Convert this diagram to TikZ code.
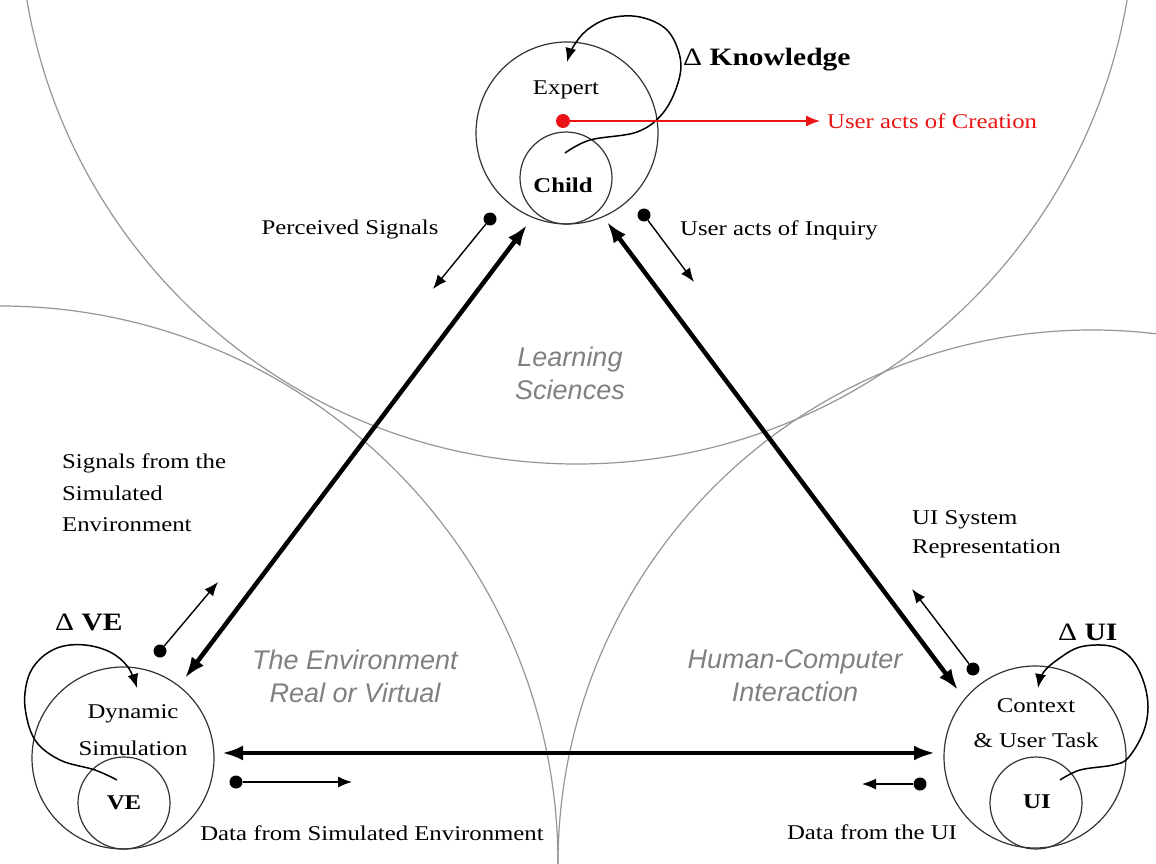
\documentclass[tikz,border=0pt]{standalone}
\usepackage{fontspec}
\setmainfont{Liberation Serif}[FakeStretch=1.18]
\newfontfamily\sansit{Liberation Sans}
\usetikzlibrary{arrows.meta}
\definecolor{arcgray}{RGB}{150,150,150}
\definecolor{lblgray}{RGB}{128,128,128}
\definecolor{ured}{RGB}{235,20,20}
\begin{document}
\begin{tikzpicture}[x=1pt,y=-1pt,
  txt/.style={font=\fontsize{21}{31}\selectfont, inner sep=0pt, align=center},
  btxt/.style={font=\fontsize{21}{31}\selectfont\bfseries, inner sep=0pt},
  delta/.style={font=\fontsize{25}{30}\selectfont\bfseries, inner sep=0pt, anchor=west},
  area/.style={font=\fontsize{27}{33}\selectfont\sansit\itshape, text=lblgray, align=center, inner sep=0pt},
  ringnode/.style={circle, draw=black!80, line width=1.2pt, inner sep=0pt},
  zone/.style={draw=arcgray, line width=1.2pt},
  big/.style={line width=4.5pt, {Latex[length=21pt,width=15pt]}-{Latex[length=21pt,width=15pt]}},
  sig/.style={line width=1.4pt, -{Latex[length=14pt,width=11pt]}},
  dot/.style={circle, fill=black, inner sep=0pt, minimum size=13pt},
  selfloop/.style={line width=1.5pt, -{Latex[length=14pt,width=11pt]}}
]
\useasboundingbox (0,0) rectangle (1156,864);
\fill[white] (0,0) rectangle (1156,864);

% discipline zones
\begin{scope}
\clip (0,0) rectangle (1156,864);
\draw[zone] (577,-94) circle[radius=558];
\draw[zone] (0,864) circle[radius=558];
\draw[zone] (1092,864) circle[radius=534];
\end{scope}

% agent circles
\node[ringnode, minimum size=182pt] (expertc) at (567,133) {};
\node[ringnode, minimum size=92pt] (childc) at (566,178) {};
\node[ringnode, minimum size=182pt] (dsc) at (123,758) {};
\node[ringnode, minimum size=92pt] (vec) at (124,803) {};
\node[ringnode, minimum size=182pt] (ctxc) at (1035,757) {};
\node[ringnode, minimum size=92pt] (uic) at (1036,803) {};

% texts in circles
\node[txt] (expert) at (566,90) {Expert};
\node[btxt] (child) at (563,185) {Child};
\node[txt, font=\fontsize{21}{37}\selectfont] (dyn) at (133,730) {Dynamic\\Simulation};
\node[btxt] (ve) at (124,803) {VE};
\node[txt, font=\fontsize{21}{35}\selectfont] (ctx) at (1036,723) {Context\\\& User Task};
\node[btxt] (ui) at (1037,802) {UI};

% delta labels
\node[delta] (dk) at (683,60) {{\mdseries Δ} Knowledge};
\node[delta] (dve) at (55,622) {{\mdseries Δ} VE};
\node[delta] (dui) at (1058,632) {{\mdseries Δ} UI};

% self loops
\draw[selfloop] plot[smooth, tension=0.6] coordinates {(565,153) (590,140) (637,132) (663,113) (678,83) (680,57) (667,30) (640,17) (610,18) (587,30) (573,47) (567,62)};
\draw[selfloop] plot[smooth, tension=0.6] coordinates {(117,780) (95,770) (60,760) (35,740) (25,707) (28,678) (40,659) (60,647) (85,645) (110,652) (128,667) (137,688)};
\draw[selfloop] plot[smooth, tension=0.6] coordinates {(1060,780) (1080,770) (1113,765) (1128,758) (1143,733) (1148,707) (1143,680) (1130,657) (1110,646) (1080,647) (1057,660) (1043,673) (1038,688)};

% red creation arrow
\node[circle, fill=ured, inner sep=0pt, minimum size=14pt] (rdot) at (563,121) {};
\node[txt, text=ured, anchor=west] (creation) at (827,121) {User acts of Creation};
\coordinate (rtip) at (820,121);
\draw[line width=1.4pt, ured, -{Latex[length=14pt,width=11pt]}] (rdot) -- (rtip);

% thick triangle arrows
\coordinate (lt) at (527,225);
\coordinate (lb) at (185,678);
\coordinate (rt) at (607,222);
\coordinate (rb) at (958,690);
\coordinate (bl) at (222,753);
\coordinate (br) at (935,753);
\draw[big] (lt) -- (lb);
\draw[big] (rt) -- (rb);
\draw[big] (bl) -- (br);

% signal arrows
\node[dot] (dps) at (490,219) {};
\coordinate (tps) at (433,289);
\node[dot] (dinq) at (644,215) {};
\coordinate (tinq) at (694,282);
\node[dot] (dse) at (160,651) {};
\coordinate (tse) at (218,582);
\node[dot] (duir) at (973,669) {};
\coordinate (tuir) at (912,589);
\node[dot] (dds) at (236,782) {};
\coordinate (tds) at (352,782);
\node[dot] (ddu) at (920,784) {};
\coordinate (tdu) at (862,784);
\draw[sig] (dps) -- (tps);
\draw[sig] (dinq) -- (tinq);
\draw[sig] (dse) -- (tse);
\draw[sig] (duir) -- (tuir);
\draw[sig] (dds) -- (tds);
\draw[sig] (ddu) -- (tdu);

% signal labels
\node[txt] (lps) at (350,229) {Perceived Signals};
\node[txt, anchor=west] (linq) at (680,230) {User acts of Inquiry};
\node[txt, anchor=west, align=left, font=\fontsize{21}{31.5}\selectfont] (lse) at (62,493) {Signals from the\\Simulated\\Environment};
\node[txt, anchor=west, align=left, font=\fontsize{21}{29}\selectfont] (luir) at (912,534) {UI System\\Representation};
\node[txt] (lds) at (372,833) {Data from Simulated Environment};
\node[txt] (ldu) at (872,832) {Data from the UI};

% area labels
\node[area] (ls) at (570,373) {Learning\\Sciences};
\node[area] (env) at (355,676) {The Environment\\Real or Virtual};
\node[area] (hci) at (795,676) {Human-Computer\\Interaction};
\end{tikzpicture}
\end{document}
